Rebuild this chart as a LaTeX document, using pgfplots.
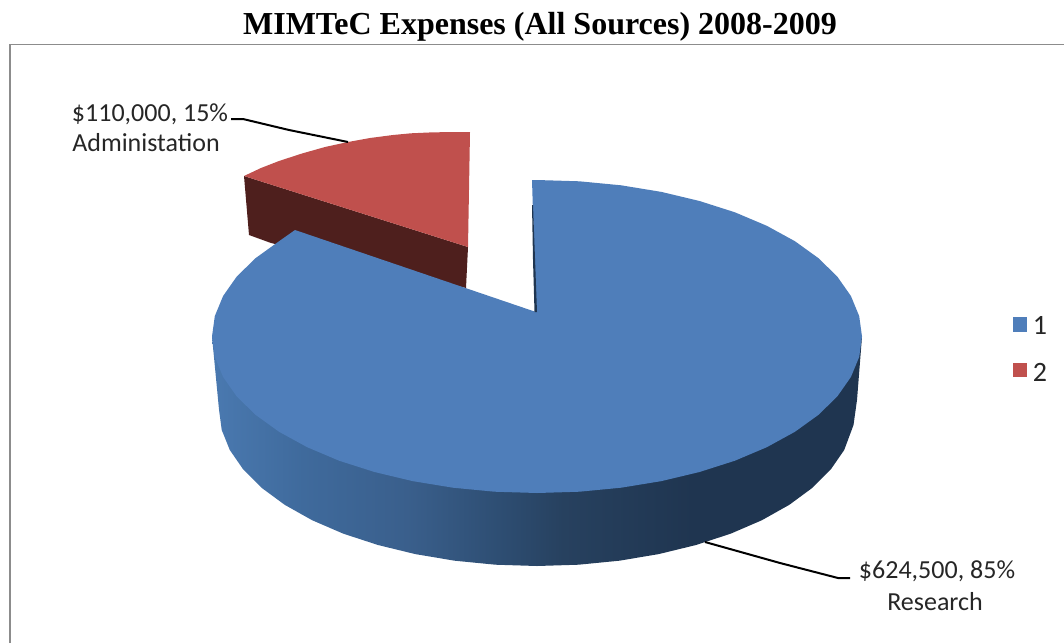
\documentclass[border=0pt]{standalone}
\usepackage{pgfplots}
\pgfplotsset{compat=1.18}
\usepackage{fontspec}
\setmainfont{Carlito}
\newfontfamily\titlefont{Liberation Serif}
\definecolor{piea}{HTML}{4F7EBA}
\definecolor{pieb}{HTML}{C0504D}
\definecolor{piebd}{HTML}{4E1F1D}
\definecolor{piead}{HTML}{1F3550}
\definecolor{framec}{HTML}{8C8C8C}
\definecolor{labelc}{HTML}{262626}
\pgfdeclarehorizontalshading{wallshade}{100bp}{
  rgb(0bp)=(0.29,0.475,0.69);
  rgb(25bp)=(0.29,0.475,0.69);
  rgb(32bp)=(0.247,0.416,0.612);
  rgb(40bp)=(0.227,0.373,0.549);
  rgb(47bp)=(0.18,0.306,0.451);
  rgb(52bp)=(0.153,0.255,0.373);
  rgb(62bp)=(0.122,0.208,0.314);
  rgb(75bp)=(0.122,0.208,0.314);
  rgb(100bp)=(0.122,0.208,0.314)}
\begin{document}
\begin{tikzpicture}[x=1pt,y=1pt]
\path[use as bounding box] (0,0) rectangle (1064,643);
\begin{axis}[at={(0,0)},anchor=south west,scale only axis,width=1064pt,height=643pt,
  xmin=0,xmax=1064,ymin=0,ymax=643,y dir=reverse,hide axis,clip=false]
% frame
\addplot[framec,line width=1.6pt,forget plot] coordinates {(10,643)(10,44.5)(1064,44.5)};
% red slice wall
\addplot[fill=piebd,draw=none] coordinates {(244,176)(249,235)(271,243)(466,288)(468,247)};
% red slice top
\addplot[fill=pieb,draw=none] coordinates {(244,176)(261,168)(279,161)(302,153.5)(325,147)(348,142)(370,138)(393,135)(411,133.3)(429,132.5)(450,132)(470,132)(468,247)};
% blue wall
\addplot[shading=wallshade,draw=none] coordinates {(212,336.5)(219,409.5)(221.7,429.9)(229.8,450)(243.2,469.4)(261.6,487.8)(284.7,504.8)(312.1,520.2)(343.4,533.7)(378,545)(415.3,554.1)(454.7,560.7)(495.5,564.7)(537,566)(578.5,564.7)(619.3,560.7)(658.7,554.1)(696,545)(730.6,533.7)(761.9,520.2)(789.3,504.8)(812.4,487.8)(830.8,469.4)(844.2,450)(853.5,425)(857,400)(862,336.5)};
% blue top
\addplot[fill=piea,draw=none] coordinates {(532,180)(537,180)(579.4,181.3)(621.1,185.3)(661.4,191.9)(699.5,201)(734.9,212.3)(766.8,225.8)(794.9,241.2)(818.5,258.2)(837.3,276.6)(850.9,296)(859.2,316.1)(862,336.5)(859.2,356.9)(850.9,377)(837.3,396.4)(818.5,414.8)(794.9,431.8)(766.8,447.2)(734.9,460.7)(699.5,472)(661.4,481.1)(621.1,487.7)(579.4,491.7)(537,493)(494.6,491.7)(452.9,487.7)(412.6,481.1)(374.5,472)(339.1,460.7)(307.2,447.2)(279.1,431.8)(255.5,414.8)(236.7,396.4)(223.1,377)(214.8,356.9)(212,336.5)(214.8,316.1)(223.1,296)(236.7,276.6)(255.5,258.2)(279.1,241.2)(295,230)(536,312)};
% inner sliver
\addplot[fill=piead,draw=none] coordinates {(532,205)(533,260)(534.5,312)(537,312)(533,205)};
% leader lines
\addplot[black,line width=2pt] coordinates {(231,119)(243,119)(289,130)(348,142)};
\addplot[black,line width=2pt] coordinates {(705,542)(780,563)(838,578)(850,578)};
% legend swatches
\addplot[fill=piea,draw=none] coordinates {(1013,317)(1027,317)(1027,332)(1013,332)};
\addplot[fill=pieb,draw=none] coordinates {(1013,363)(1027,363)(1027,377)(1013,377)};
% text
\node[anchor=center,inner sep=0pt] at (axis cs:540,27) {\titlefont\fontsize{32}{34}\selectfont\bfseries MIMTeC Expenses (All Sources) 2008-2009};
\node[anchor=center,inner sep=0pt,text=labelc] at (axis cs:150,114) {\fontsize{26}{28}\selectfont \$110,000, 15\%};
\node[anchor=center,inner sep=0pt,text=labelc] at (axis cs:146,142.5) {\fontsize{26}{28}\selectfont Administation};
\node[anchor=center,inner sep=0pt,text=labelc] at (axis cs:937,571) {\fontsize{26}{28}\selectfont \$624,500, 85\%};
\node[anchor=center,inner sep=0pt,text=labelc] at (axis cs:935,602) {\fontsize{26}{28}\selectfont Research};
\node[anchor=center,inner sep=0pt,text=labelc] at (axis cs:1040,325) {\fontsize{28}{30}\selectfont 1};
\node[anchor=center,inner sep=0pt,text=labelc] at (axis cs:1040,372) {\fontsize{28}{30}\selectfont 2};
\end{axis}
\end{tikzpicture}
\end{document}
